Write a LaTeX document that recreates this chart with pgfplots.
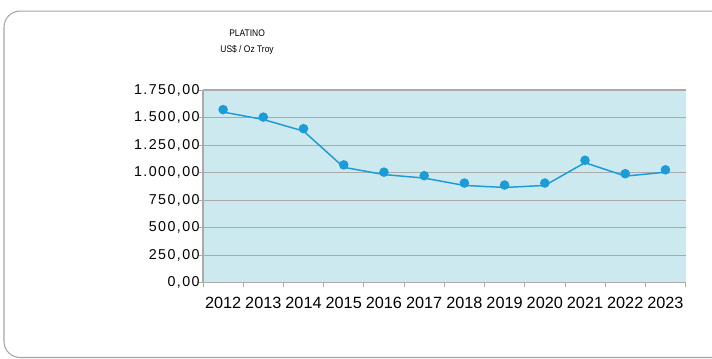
\documentclass[border=0pt]{standalone}
\usepackage{fontspec}
\setmainfont{Liberation Sans}
\newfontfamily\spacedfont[LetterSpace=10]{Liberation Sans}
\newfontfamily\narrowfont[FakeStretch=0.88]{Liberation Sans}
\usepackage{pgfplots}
\pgfplotsset{compat=1.18}
\definecolor{plotbg}{RGB}{205,233,240}
\definecolor{series}{RGB}{27,156,214}
\definecolor{gridgray}{RGB}{170,170,170}
\definecolor{framegray}{RGB}{165,165,165}

\begin{document}
\begin{tikzpicture}
  \useasboundingbox (0,0) rectangle (534pt,268.5pt);
  % outer frame, cut off on the right like the reference
  \draw[framegray, line width=0.8pt, rounded corners=12pt] (3pt,0.4pt) rectangle (580pt,260.2pt);

  \node[font=\narrowfont\fontsize{7.2}{8}\selectfont] at (185.3pt,243.8pt) {PLATINO};
  \node[font=\narrowfont\fontsize{7.2}{8}\selectfont] at (185.3pt,231.3pt) {US\$ / Oz Troy};

  \begin{axis}[
    at={(152.25pt,56.5pt)}, anchor=south west,
    scale only axis,
    width=361.9pt, height=144.5pt,
    xmin=-0.5, xmax=11.5,
    ymin=0, ymax=1750,
    axis background/.style={fill=plotbg},
    axis x line=bottom, axis y line=left,
    axis line style={-, gridgray, line width=0.8pt},
    ymajorgrids,
    major grid style={gridgray, line width=0.8pt},
    tick align=outside,
    major tick length=3pt,
    tick style={gridgray, line width=0.6pt},
    xtick={-0.5,0.5,...,11.5},
    x tick label as interval,
    xticklabels={2012,2013,2014,2015,2016,2017,2018,2019,2020,2021,2022,2023},
    xticklabel style={font=\fontsize{12.2}{13}\selectfont, yshift=-4.5pt},
    ytick={0,250,...,1750},
    yticklabel style={font=\spacedfont\fontsize{10.7}{12}\selectfont, xshift=4pt,
      /pgf/number format/.cd, fixed, fixed zerofill, precision=2, use comma, 1000 sep={.}, assume math mode=true},
    clip=false,
  ]
    \addplot[series, line width=1.1pt, mark=*, mark size=3pt,
      mark options={yshift=1.8pt, fill=series, draw=series}]
      coordinates {
        (0,1550) (1,1482) (2,1377) (3,1048) (4,982) (5,950)
        (6,883) (7,865) (8,883) (9,1090) (10,968) (11,1003)
      };
  \end{axis}
\end{tikzpicture}
\end{document}
